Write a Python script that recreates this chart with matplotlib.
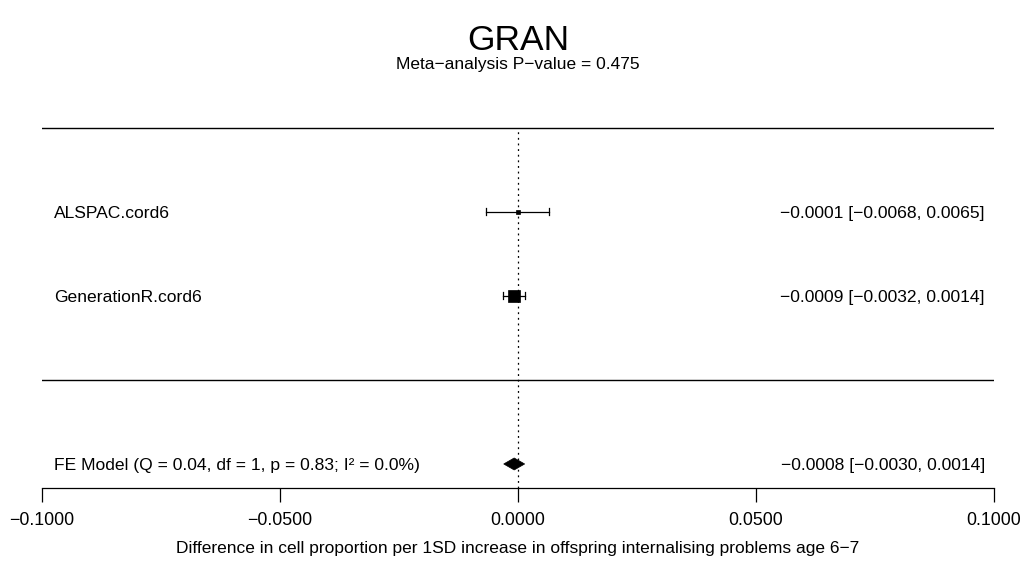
import numpy as np
import matplotlib
matplotlib.use("Agg")
import matplotlib.pyplot as plt
from matplotlib.patches import Polygon, Rectangle

plt.rcParams['font.family'] = ['Liberation Sans', 'DejaVu Sans']

# Study estimates and 95% confidence intervals
studies = ["ALSPAC.cord6", "GenerationR.cord6"]
estimates = [-0.0001, -0.0009]
ci_lower = [-0.0068, -0.0032]
ci_upper = [0.0065, 0.0014]

# Fixed-effect summary
fe_label = "FE Model (Q = 0.04, df = 1, p = 0.83; I\u00b2 = 0.0%)"
fe_est = -0.0008
fe_lower = -0.0030
fe_upper = 0.0014

title = "GRAN"
subtitle = "Meta-analysis P-value = 0.475"
xlabel = "Difference in cell proportion per 1SD increase in offspring internalising problems age 6\u22127"
xticks = [-0.1, -0.05, 0.0, 0.05, 0.1]

FS = 12.6

W, H = 1028, 565
fig = plt.figure(figsize=(W / 100, H / 100), dpi=100)

# axes placement in pixels
left_px, right_px = 42, 994
bottom_px, top_px = 488, 86
ax = fig.add_axes([left_px / W, 1 - bottom_px / H,
                   (right_px - left_px) / W, (bottom_px - top_px) / H])
ax.set_xlim(-0.1, 0.1)
ymin, ymax = -1.286, 3.5
ax.set_ylim(ymin, ymax)
for s in ["top", "right", "left"]:
    ax.spines[s].set_visible(False)
ax.spines["bottom"].set_linewidth(0.9)
ax.set_yticks([])
ax.set_xticks(xticks)
ax.set_xticklabels([f"{t:.4f}".replace("-", "\u2212") for t in xticks], fontsize=12.8)
ax.tick_params(axis="x", length=10, width=0.9, pad=7)

k = len(studies)
rows = np.arange(k, 0, -1)

# separating lines
ax.axhline(k + 1, color="black", lw=1.0)
ax.axhline(0, color="black", lw=1.0)

# reference line at zero
ax.plot([0, 0], [ymin, k + 1], color="black", lw=0.9, ls=(0, (1.5, 3)))

# square sizes scaled by inverse-variance weights
se = (np.array(ci_upper) - np.array(ci_lower)) / (2 * 1.96)
w = 1 / se ** 2
pw = w / w.sum()
norm = (pw - pw.min()) / (pw.max() - pw.min())
sq_px = 4 + norm * 8  # square side in pixels

px_per_x = (right_px - left_px) / 0.2
px_per_y = (bottom_px - top_px) / (ymax - ymin)
cap = 3.5 / px_per_y

for i, (r, est, lo, hi, s) in enumerate(zip(rows, estimates, ci_lower, ci_upper, sq_px)):
    ax.plot([lo, hi], [r, r], color="black", lw=0.9)
    ax.plot([lo, lo], [r - cap, r + cap], color="black", lw=0.9)
    ax.plot([hi, hi], [r - cap, r + cap], color="black", lw=0.9)
    hw = s / 2 / px_per_x
    hh = s / 2 / px_per_y
    ax.add_patch(Rectangle((est - hw, r - hh), 2 * hw, 2 * hh,
                           facecolor="black", edgecolor="black", lw=0.5))
    ax.text(-0.0975, r, studies[i], ha="left", va="center_baseline", fontsize=FS)
    ax.text(0.0981, r,
            f"{est:.4f} [{lo:.4f}, {hi:.4f}]".replace("-", "\u2212"),
            ha="right", va="center_baseline", fontsize=FS)

# summary diamond
dh = 6 / px_per_y
ax.add_patch(Polygon([[fe_lower, -1], [fe_est, -1 + dh], [fe_upper, -1], [fe_est, -1 - dh]],
                     closed=True, facecolor="black", edgecolor="black", lw=0.5))
ax.text(-0.0975, -1, fe_label, ha="left", va="center_baseline", fontsize=FS)
ax.text(0.0981, -1,
        f"{fe_est:.4f} [{fe_lower:.4f}, {fe_upper:.4f}]".replace("-", "\u2212"),
        ha="right", va="center_baseline", fontsize=FS)

ax.set_xlabel(xlabel, fontsize=12.5, labelpad=9)

fig.text(518 / W, 1 - 40 / H, title, ha="center", va="center", fontsize=25.5)
fig.text(518 / W, 1 - 65 / H, subtitle.replace("-", "\u2212"), ha="center", va="center", fontsize=12.5)

fig.savefig("out.png", dpi=100)
